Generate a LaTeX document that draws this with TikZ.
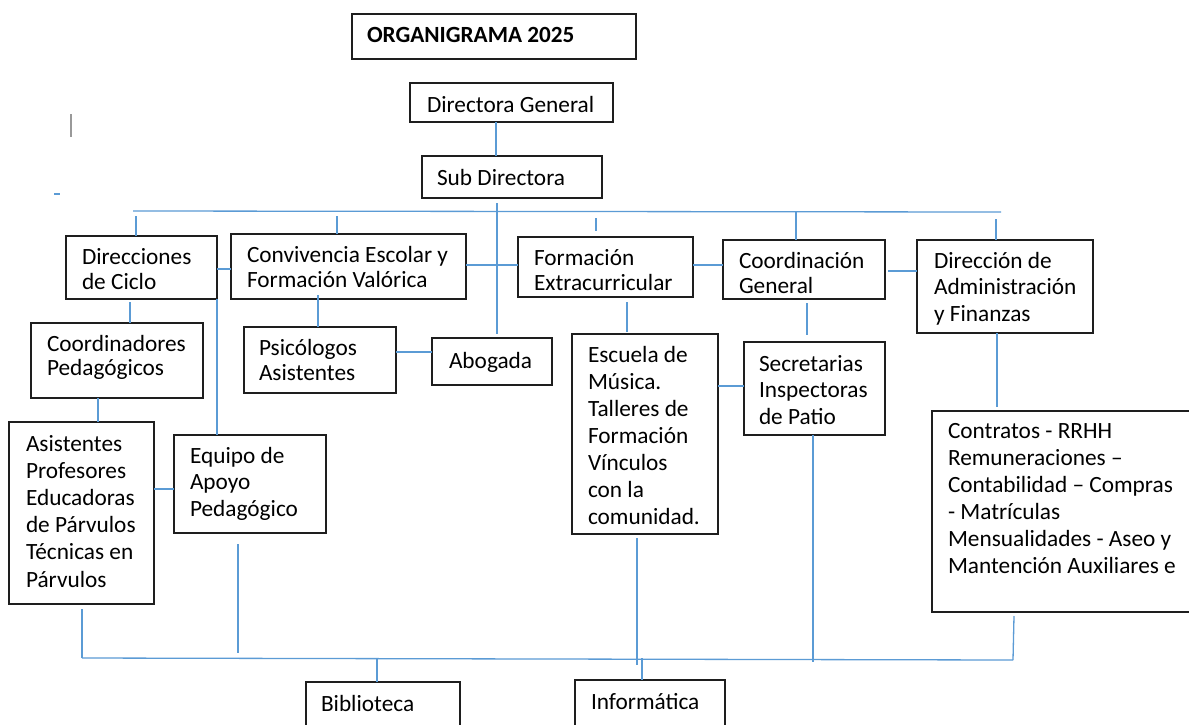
\documentclass[tikz,border=0pt]{standalone}
\usepackage{fontspec}
\setmainfont{Carlito}
\definecolor{conncol}{RGB}{91,155,213}
\definecolor{boxcol}{RGB}{30,30,30}
\begin{document}
\begin{tikzpicture}[x=1pt,y=-1pt,
  box/.style={draw=boxcol,line width=1.3pt,rectangle,inner sep=0pt,outer sep=0pt,anchor=north west},
  txt/.style={anchor=north west,inner sep=0pt,outer sep=0pt,align=left,text=black,
    font=\fontsize{23.3}{27}\selectfont,execute at begin node={\rule{0pt}{19pt}}},
  two/.style={font=\fontsize{23.3}{25}\selectfont},
  conn/.style={draw=conncol,line width=1.3pt},
  stray/.style={draw=gray!80,line width=1.3pt}]
\useasboundingbox (0,0) rectangle (1189,724);
\clip (0,0) rectangle (1189,724);
\fill[white] (0,0) rectangle (1189,724);

% boxes
\node[box,minimum width=284pt,minimum height=45pt] (title) at (352,14) {};
\node[box,minimum width=203pt,minimum height=39pt] (dg) at (410,83) {};
\node[box,minimum width=180pt,minimum height=42pt] (sd) at (422,156) {};
\node[box,minimum width=151pt,minimum height=63pt] (dc) at (66,236) {};
\node[box,minimum width=235pt,minimum height=65pt] (conv) at (231,234) {};
\node[box,minimum width=175pt,minimum height=60pt] (form) at (518,237) {};
\node[box,minimum width=162pt,minimum height=59pt] (cg) at (723,240) {};
\node[box,minimum width=176pt,minimum height=93pt] (dadm) at (917,240) {};
\node[box,minimum width=172pt,minimum height=75pt] (coordped) at (31,323) {};
\node[box,minimum width=152pt,minimum height=66pt] (psico) at (244,327) {};
\node[box,minimum width=120pt,minimum height=47pt] (abog) at (432,338) {};
\node[box,minimum width=146pt,minimum height=200pt] (escuela) at (572,334) {};
\node[box,minimum width=141pt,minimum height=93pt] (secre) at (744,342) {};
\node[box,minimum width=270pt,minimum height=201pt] (contratos) at (932,411) {};
\node[box,minimum width=145pt,minimum height=182pt] (asist) at (9,422) {};
\node[box,minimum width=152pt,minimum height=98pt] (equipo) at (174,435) {};
\node[box,minimum width=154pt,minimum height=60pt] (biblio) at (306,682) {};
\node[box,minimum width=150pt,minimum height=60pt] (inform) at (575,680) {};

% texts
\node[txt,font=\bfseries\fontsize{23.2}{27}\selectfont] (ttitle) at (367,23) {ORGANIGRAMA 2025};
\node[txt] (tdg) at (427,93) {Directora General};
\node[txt] (tsd) at (437,166) {Sub Directora};
\node[txt,two] (tdc) at (82,248) {Direcciones\\de Ciclo};
\node[txt,two] (tconv) at (247,246) {Convivencia Escolar y\\Formación Valórica};
\node[txt,two] (tform) at (534,249) {Formación\\Extracurricular};
\node[txt,two] (tcg) at (739,252) {Coordinación\\General};
\node[txt,font=\fontsize{23.3}{26.5}\selectfont] (tdadm) at (934,252) {Dirección de\\Administración\\y Finanzas};
\node[txt,font=\fontsize{23.3}{24}\selectfont] (tcoordped) at (47,335) {Coordinadores\\Pedagógicos};
\node[txt,font=\fontsize{23.3}{25.5}\selectfont] (tpsico) at (259,339) {Psicólogos\\Asistentes};
\node[txt] (tabog) at (449,349) {Abogada};
\node[txt] (tescuela) at (588,346) {Escuela de\\Música.\\Talleres de\\Formación\\Vínculos\\con la\\comunidad.};
\node[txt,font=\fontsize{23.3}{26.7}\selectfont] (tsecre) at (759,355) {Secretarias\\Inspectoras\\de Patio};
\node[txt] (tcontratos) at (948,423) {Contratos - RRHH\\Remuneraciones --\\Contabilidad -- Compras\\- Matrículas\\Mensualidades - Aseo y\\Mantención Auxiliares e};
\node[txt,font=\fontsize{23.3}{27.2}\selectfont] (tasist) at (26,435) {Asistentes\\Profesores\\Educadoras\\de Párvulos\\Técnicas en\\Párvulos};
\node[txt,font=\fontsize{23.3}{26.7}\selectfont] (tequipo) at (190,447) {Equipo de\\Apoyo\\Pedagógico};
\node[txt] (tbiblio) at (321,692) {Biblioteca};
\node[txt] (tinform) at (591,690) {Informática};

% named free ends
\coordinate (busL) at (133,211);
\coordinate (busR) at (1001,212);
\coordinate (d1) at (136,216);
\coordinate (d2) at (337,216);
\coordinate (d3a) at (596,218);
\coordinate (d3b) at (596,231);
\coordinate (d4) at (796,212);
\coordinate (d5) at (996,219);
\coordinate (sdv) at (497,203);
\coordinate (sdvEnd) at (497,334);
\coordinate (cgdadm) at (888,271);
\coordinate (convdown) at (318,295);
\coordinate (dcdown) at (130,302);
\coordinate (formdown) at (627,302);
\coordinate (formdownEnd) at (627,332);
\coordinate (cgdown) at (807,303);
\coordinate (cgdownEnd) at (807,335);
\coordinate (dadmEnd) at (997,407);
\coordinate (asistA) at (82,609);
\coordinate (botL) at (82,658);
\coordinate (botR) at (1013,660);
\coordinate (eqA) at (238,544);
\coordinate (eqB) at (238,653);
\coordinate (escA) at (637,538);
\coordinate (escB) at (637,665);
\coordinate (secB) at (813,662);
\coordinate (conA) at (1014,616);
\coordinate (bib) at (377,658);
\coordinate (inf) at (642,658);

% connectors
\draw[conn] (dg.south -| 496,0) -- (sd.north -| 496,0);
\draw[conn] (busL) -- (busR);
\draw[conn] (d1) -- (dc.north -| d1);
\draw[conn] (d2) -- (conv.north -| d2);
\draw[conn] (d3a) -- (d3b);
\draw[conn] (d4) -- (cg.north -| d4);
\draw[conn] (d5) -- (dadm.north -| d5);
\draw[conn] (sdv) -- (sdvEnd);
\draw[conn] (dc.east |- 0,269) -- (conv.west |- 0,269);
\draw[conn] (conv.east |- 0,265) -- (form.west |- 0,265);
\draw[conn] (form.east |- 0,265) -- (cg.west |- 0,265);
\draw[conn] (cgdadm) -- (dadm.west |- cgdadm);
\draw[conn] (convdown) -- (psico.north -| convdown);
\draw[conn] (dcdown) -- (coordped.north -| dcdown);
\draw[conn] (dc.south east) -- (equipo.north -| dc.south east);
\draw[conn] (psico.east |- 0,352) -- (abog.west |- 0,352);
\draw[conn] (coordped.south -| 98,0) -- (asist.north -| 98,0);
\draw[conn] (asist.east |- 0,489) -- (equipo.west |- 0,489);
\draw[conn] (formdown) -- (formdownEnd);
\draw[conn] (cgdown) -- (cgdownEnd);
\draw[conn] (escuela.east |- 0,386) -- (secre.west |- 0,386);
\draw[conn] (dadm.south -| dadmEnd) -- (dadmEnd);
\draw[conn] (asistA) -- (botL);
\draw[conn] (eqA) -- (eqB);
\draw[conn] (escA) -- (escB);
\draw[conn] (secre.south -| secB) -- (secB);
\draw[conn] (conA) -- (botR);
\draw[conn] (botL) -- (botR);
\draw[conn] (bib) -- (biblio.north -| bib);
\draw[conn] (inf) -- (inform.north -| inf);

% stray marks
\coordinate (s1) at (71,114);
\coordinate (s2) at (71,137);
\coordinate (s3) at (54,194);
\coordinate (s4) at (60,194);
\draw[stray] (s1) -- (s2);
\draw[conn] (s3) -- (s4);
\end{tikzpicture}
\end{document}
